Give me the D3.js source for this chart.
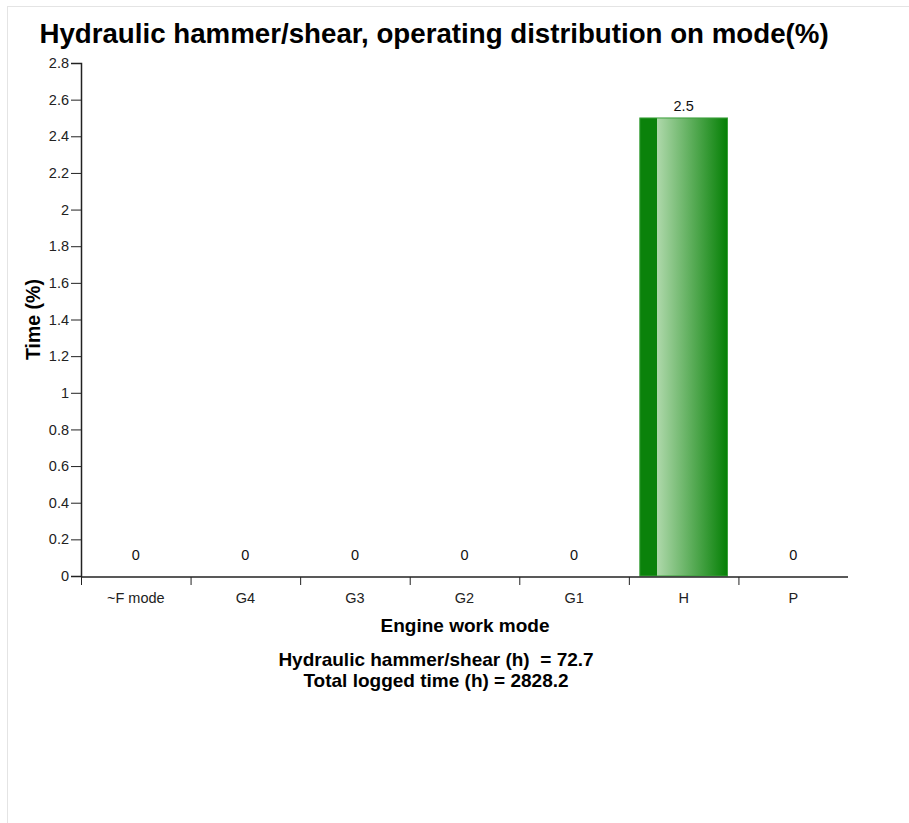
<!DOCTYPE html>
<html><head><meta charset="utf-8">
<script src="https://cdn.jsdelivr.net/npm/d3@7"></script>
<style>
body{margin:0;background:#fff;font-family:"Liberation Sans",Arial,sans-serif;}
text{white-space:pre;}
</style></head>
<body><svg id="c" width="909" height="823"></svg>
<script>
const categories = ["~F mode","G4","G3","G2","G1","H","P"];
const values = [0,0,0,0,0,2.5,0];
const yTicks = [0,0.2,0.4,0.6,0.8,1,1.2,1.4,1.6,1.8,2,2.2,2.4,2.6,2.8];
const title = "Hydraulic hammer/shear, operating distribution on mode(%)";
const footer = ["Hydraulic hammer/shear (h)  = 72.7","Total logged time (h) = 2828.2"];

const svg = d3.select("#c");
const font = "'Liberation Sans', Arial, sans-serif";
svg.append("rect").attr("x",7.5).attr("y",6.5).attr("width",920).attr("height",830)
  .attr("fill","none").attr("stroke","#e4e4e4").attr("stroke-width",1);

const m = {left:81, right:848, top:63, bottom:576};
const xb = d3.scaleBand().domain(categories).range([m.left,m.right]);
const y = d3.scaleLinear().domain([0,2.8]).range([m.bottom,m.top]);

const defs = svg.append("defs");
const g = defs.append("linearGradient").attr("id","gr").attr("x1","0").attr("x2","1").attr("y1","0").attr("y2","0");
[[0,"#0b820b"],[0.2,"#0b820b"],[0.2,"#aed8aa"],[1,"#058005"]].forEach(s=>
  g.append("stop").attr("offset",s[0]).attr("stop-color",s[1]));

svg.append("text").attr("x",434).attr("y",43).attr("text-anchor","middle")
  .attr("font-family",font).attr("font-weight","bold").attr("font-size",27.7).text(title);

const bw = xb.bandwidth()*0.8;
svg.selectAll("rect.bar").data(values).join("rect").attr("class","bar")
  .attr("x",(d,i)=>xb(categories[i])+xb.bandwidth()*0.1)
  .attr("width",bw)
  .attr("y",d=>y(d)).attr("height",d=>y(0)-y(d))
  .attr("fill","url(#gr)").attr("stroke",d=>d>0?"#3aa03a":"none").attr("stroke-width",1);

svg.selectAll("text.val").data(values).join("text").attr("class","val")
  .attr("x",(d,i)=>xb(categories[i])+xb.bandwidth()/2)
  .attr("y",d=>Math.min(y(d)-7, y(0)-16))
  .attr("text-anchor","middle").attr("font-family",font).attr("font-size",14.5).attr("fill","#111")
  .text(d=>d);

const ya = svg.append("g").attr("transform",`translate(${m.left},0)`)
  .call(d3.axisLeft(y).tickValues(yTicks).tickFormat(d=>d3.format("~g")(d)).tickSizeOuter(0).tickSize(10).tickPadding(2));
ya.selectAll("text").attr("font-family",font).attr("font-size",14.5).attr("fill","#222");
ya.selectAll(".tick line").attr("stroke","#222");
ya.select(".domain").attr("stroke","#222").attr("stroke-width",1.5);

const xa = svg.append("g").attr("transform",`translate(0,${m.bottom+1})`);
xa.append("line").attr("x1",m.left).attr("x2",m.right).attr("stroke","#222").attr("stroke-width",1.5);
const edges = categories.map(c=>xb(c));
xa.selectAll("line.t").data(edges).join("line").attr("class","t")
  .attr("x1",d=>d+0.5).attr("x2",d=>d+0.5).attr("y1",0).attr("y2",8).attr("stroke","#222");
xa.selectAll("text").data(categories).join("text")
  .attr("x",c=>xb(c)+xb.bandwidth()/2).attr("y",26).attr("text-anchor","middle")
  .attr("font-family",font).attr("font-size",14.5).attr("fill","#222").text(c=>c);

svg.append("text").attr("x",465).attr("y",632).attr("text-anchor","middle")
  .attr("font-family",font).attr("font-weight","bold").attr("font-size",19).text("Engine work mode");
svg.append("text").attr("transform",`translate(40,${(m.top+m.bottom)/2}) rotate(-90)`).attr("text-anchor","middle")
  .attr("font-family",font).attr("font-weight","bold").attr("font-size",19.5).text("Time (%)");
footer.forEach((t,i)=>svg.append("text").attr("x",436).attr("y",666+i*20.5).attr("text-anchor","middle")
  .attr("font-family",font).attr("font-weight","bold").attr("font-size",19).text(t));
</script></body></html>
